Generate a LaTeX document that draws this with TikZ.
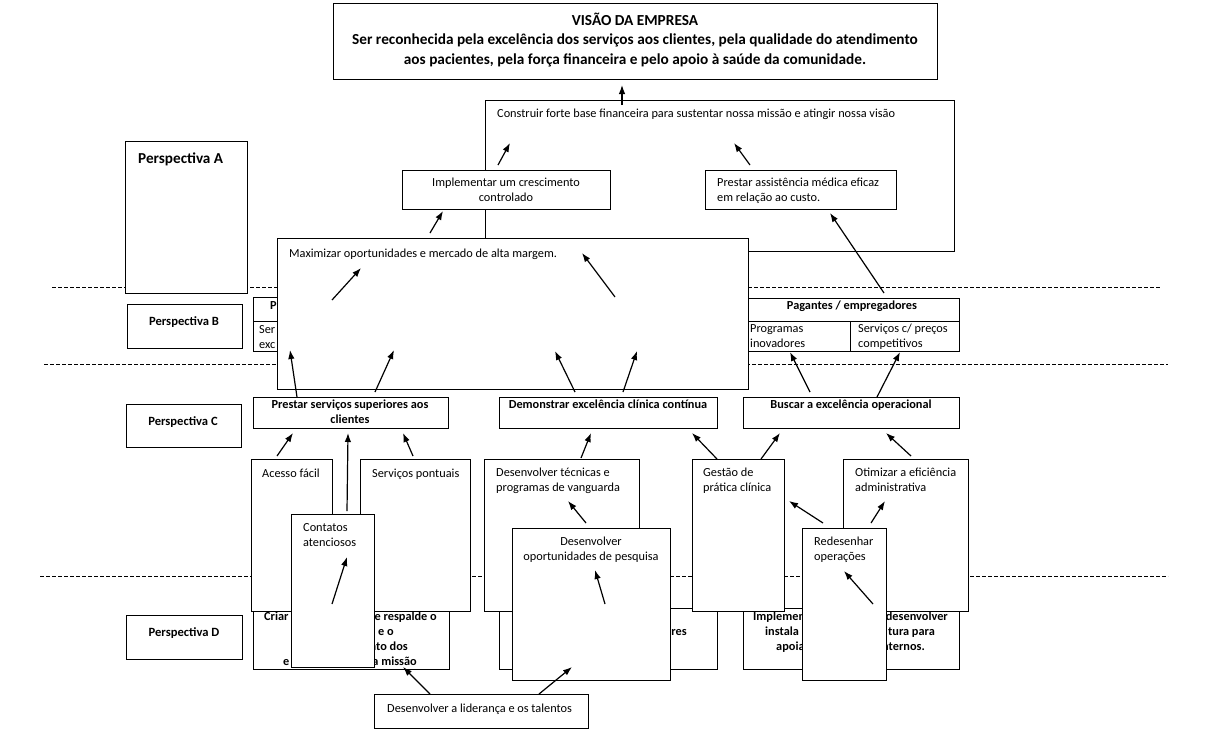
\documentclass[tikz,border=0pt]{standalone}
\usepackage{fontspec}
\setmainfont{Carlito}
\usetikzlibrary{arrows.meta}
\tikzset{
  box/.style={draw, fill=white, line width=1pt, anchor=north west, inner sep=0pt},
  mtxt/.style={inner sep=0pt, align=left, anchor=north west, font=\fontsize{12.3}{15}\selectfont},
  txt/.style={mtxt, text height=9pt, text depth=3pt},
  ctxt/.style={mtxt, align=center, anchor=north},
  btxt/.style={ctxt, font=\fontsize{12.3}{15}\selectfont\bfseries},
  frag/.style={txt, font=\fontsize{12.3}{15}\selectfont\bfseries},
  lbl/.style={txt, anchor=north, font=\fontsize{12.6}{15}\selectfont\bfseries},
  arr/.style={-{Latex[length=9pt,width=6.5pt]}, line width=1.2pt},
  lane/.style={dash pattern=on 4pt off 2pt, line width=0.6pt}
}
\begin{document}
\begin{tikzpicture}[x=1pt,y=-1pt]
\useasboundingbox (0,0) rectangle (1230,740);
% perspective lanes
\draw[lane] (52,287) -- (1160,287);
\draw[lane] (44,364) -- (1168,364);
\draw[lane] (40,576) -- (1168,576);
% vision
\node[box, minimum width=604pt, minimum height=76pt] at (333,3) (vis) {};
\node[ctxt, font=\fontsize{15.3}{19.5}\selectfont\bfseries] at (635,12.5) (vist) {VISÃO DA EMPRESA\\Ser reconhecida pela excelência dos serviços aos clientes, pela qualidade do atendimento\\aos pacientes, pela força financeira e pelo apoio à saúde da comunidade.};
% perspectiva A
\node[box, minimum width=469pt, minimum height=151pt] at (485,100) (con) {};
\node[txt] at (497,108) (cont) {Construir forte base financeira para sustentar nossa missão e atingir nossa visão};
\node[box, minimum width=208pt, minimum height=39pt] at (402,170) (imp) {};
\node[ctxt] at (506,178) (impt) {Implementar um crescimento\\controlado};
\node[box, minimum width=191pt, minimum height=39pt] at (705,170) (pre) {};
\node[mtxt] at (717,178) (pret) {Prestar assistência médica eficaz\\em relação ao custo.};
% lane labels
\node[box, minimum width=122pt, minimum height=152pt] at (125,141) (pa) {};
\node[txt, text height=11pt, font=\fontsize{15.2}{15}\selectfont\bfseries] at (138,152) (pat) {Perspectiva A};
\node[box, minimum width=115pt, minimum height=44pt] at (127,304) (pb) {};
\node[lbl] at (184,316) (pbt) {Perspectiva B};
\node[box, minimum width=115pt, minimum height=43pt] at (126,404) (pc) {};
\node[lbl] at (183,416) (pct) {Perspectiva C};
\node[box, minimum width=116pt, minimum height=44pt] at (126,615) (pd) {};
\node[lbl] at (184,627) (pdt) {Perspectiva D};
% perspectiva B tables
\node[box, minimum width=100pt, minimum height=24pt] at (253,297) (paci) {};
\node[box, minimum width=100pt, minimum height=30pt] at (253,321) (pacia) {};
\node[frag] at (270,300) (pacit) {P};
\node[mtxt] at (259,325) (paciat) {Ser\\exc};
\node[box, minimum width=259pt, minimum height=23pt] at (700,298) (pag) {};
\node[box, minimum width=150pt, minimum height=30pt] at (700,321) (paga) {};
\node[box, minimum width=109pt, minimum height=30pt] at (850,321) (pagb) {};
\node[frag, anchor=north] at (852,300) (pagt) {Pagantes / empregadores};
\node[mtxt] at (750,324) (pagat) {Programas\\inovadores};
\node[mtxt] at (858,324) (pagbt) {Serviços c/ preços\\competitivos};
\node[box, minimum width=471pt, minimum height=151pt] at (277,238) (maxi) {};
\node[txt] at (289,248) (maxit) {Maximizar oportunidades e mercado de alta margem.};
% perspectiva C goals
\node[box, minimum width=195pt, minimum height=31pt] at (253,397) (sup) {};
\node[btxt] at (350,400) (supt) {Prestar serviços superiores aos\\clientes};
\node[box, minimum width=218pt, minimum height=31pt] at (499,397) (cli) {};
\node[btxt] at (608,400) (clit) {Demonstrar excelência clínica contínua};
\node[box, minimum width=216pt, minimum height=31pt] at (743,397) (ope) {};
\node[btxt] at (851,400) (opet) {Buscar a excelência operacional};
% perspectiva D
\node[box, minimum width=196pt, minimum height=60pt] at (253,609) (cul) {};
\node[frag] at (264,611) (cul1) {Criar};
\node[frag, anchor=north east] at (437,611) (cul2) {e respalde o};
\node[frag, anchor=north east] at (394,626) (cul3) {o e o};
\node[frag, anchor=north east] at (408,641) (cul4) {nto dos};
\node[frag] at (283,656) (cul5) {e};
\node[frag, anchor=north east] at (417,656) (cul6) {a missão};
\node[box, minimum width=218pt, minimum height=61pt] at (499,608) (sis) {};
\node[frag, anchor=north east] at (687,626) (sist) {res};
\node[box, minimum width=216pt, minimum height=61pt] at (743,608) (inf) {};
\node[frag] at (753,611) (inf1) {Implemen};
\node[frag, anchor=north east] at (948,611) (inf2) {desenvolver};
\node[frag] at (765,626) (inf3) {instala};
\node[frag, anchor=north east] at (935,626) (inf4) {tura para};
\node[frag] at (776,641) (inf5) {apoia};
\node[frag, anchor=north east] at (925,641) (inf6) {nternos.};
% perspectiva C objectives
\node[box, minimum width=81pt, minimum height=152pt] at (251,459) (ace) {};
\node[txt] at (262,468) (acet) {Acesso fácil};
\node[box, minimum width=110pt, minimum height=152pt] at (360,459) (pon) {};
\node[txt] at (372,468) (pont) {Serviços pontuais};
\node[box, minimum width=155pt, minimum height=152pt] at (484,459) (tec) {};
\node[mtxt] at (496,468) (tect) {Desenvolver técnicas e\\programas de vanguarda};
\node[box, minimum width=92pt, minimum height=152pt] at (692,459) (ges) {};
\node[mtxt] at (703,468) (gest) {Gestão de\\prática clínica};
\node[box, minimum width=125pt, minimum height=152pt] at (843,459) (oti) {};
\node[mtxt] at (855,468) (otit) {Otimizar a eficiência\\administrativa};
\node[box, minimum width=83pt, minimum height=153pt] at (291,514) (ate) {};
\node[mtxt] at (303,523) (atet) {Contatos\\atenciosos};
\node[box, minimum width=158pt, minimum height=152pt] at (512,528) (pes) {};
\node[ctxt] at (591,537) (pest) {Desenvolver\\oportunidades de pesquisa};
\node[box, minimum width=84pt, minimum height=152pt] at (802,528) (red) {};
\node[mtxt] at (814,537) (redt) {Redesenhar\\operações};
\node[box, minimum width=214pt, minimum height=34pt] at (374,694) (lid) {};
\node[txt] at (387,703) (lidt) {Desenvolver a liderança e os talentos};
% arrow ends
\coordinate (s1) at (622,105);  \coordinate (e1) at (622,85);
\coordinate (s2) at (498,165);  \coordinate (e2) at (510,143);
\coordinate (s3) at (430,233);  \coordinate (e3) at (443,211);
\coordinate (s4) at (750,165);  \coordinate (e4) at (734,143);
\coordinate (s5) at (884,293);  \coordinate (e5) at (830,213);
\coordinate (s6) at (332,300);  \coordinate (e6) at (361,268);
\coordinate (s7) at (615,297);  \coordinate (e7) at (582,253);
\coordinate (s8) at (297,397);  \coordinate (e8) at (290,350);
\coordinate (s9) at (375,392);  \coordinate (e9) at (394,350);
\coordinate (s10) at (575,392); \coordinate (e10) at (555,351);
\coordinate (s11) at (623,392); \coordinate (e11) at (637,351);
\coordinate (s12) at (810,392); \coordinate (e12) at (790,352);
\coordinate (s13) at (877,397); \coordinate (e13) at (900,352);
\coordinate (s14) at (277,456); \coordinate (e14) at (293,433);
\coordinate (s15) at (347,511); \coordinate (e15) at (348,433);
\coordinate (s16) at (413,456); \coordinate (e16) at (403,433);
\coordinate (s17) at (332,604); \coordinate (e17) at (347,557);
\coordinate (s18) at (581,458); \coordinate (e18) at (591,433);
\coordinate (s19) at (586,523); \coordinate (e19) at (568,501);
\coordinate (s20) at (605,604); \coordinate (e20) at (595,570);
\coordinate (s21) at (717,459); \coordinate (e21) at (692,433);
\coordinate (s22) at (761,459); \coordinate (e22) at (780,433);
\coordinate (s23) at (911,456); \coordinate (e23) at (886,433);
\coordinate (s24) at (823,523); \coordinate (e24) at (789,501);
\coordinate (s25) at (871,523); \coordinate (e25) at (885,501);
\coordinate (s26) at (873,604); \coordinate (e26) at (844,571);
\coordinate (s27) at (430,694); \coordinate (e27) at (403,667);
\coordinate (s28) at (539,694); \coordinate (e28) at (572,667);
\foreach \i in {1,...,28}
  \draw[arr] (s\i) -- (e\i);
\end{tikzpicture}
\end{document}
